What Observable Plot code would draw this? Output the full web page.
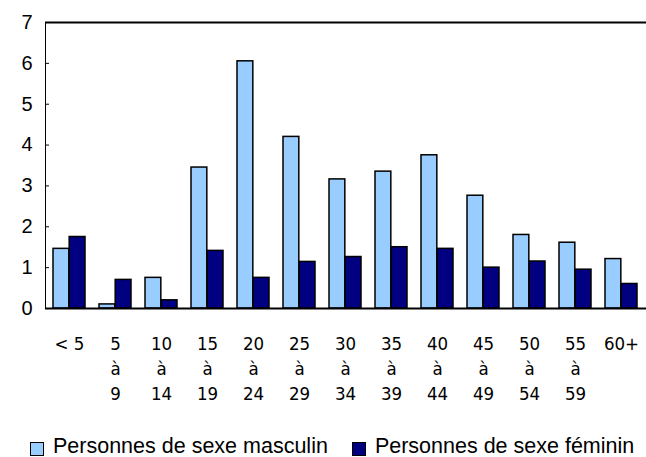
<!DOCTYPE html>
<html><head><meta charset="utf-8">
<script src="https://cdn.jsdelivr.net/npm/d3@7"></script>
<script src="https://cdn.jsdelivr.net/npm/@observablehq/plot@0.6"></script>
<style>
body{margin:0;background:#fff;font-family:"Liberation Sans",Arial,sans-serif;}
#chart svg{display:block;}
#legend{height:42px;width:646px;display:flex;align-items:center;padding-left:30px;padding-top:21px;box-sizing:border-box;font-size:21.5px;color:#000;white-space:nowrap;}
#legend .item{display:flex;align-items:center;margin-right:24px;flex-shrink:0;}
#legend .sw{width:12px;height:12px;border:1px solid #000;margin-right:9px;position:relative;top:2px;flex-shrink:0;}
</style></head><body><div id="chart"></div><div id="legend"></div>
<script>
const groups = ["< 5","5 à 9","10 à 14","15 à 19","20 à 24","25 à 29","30 à 34","35 à 39","40 à 44","45 à 49","50 à 54","55 à 59","60+"];
const groupLabels = ["< 5","5\nà\n9","10\nà\n14","15\nà\n19","20\nà\n24","25\nà\n29","30\nà\n34","35\nà\n39","40\nà\n44","45\nà\n49","50\nà\n54","55\nà\n59","60+"];
const masculin = [1.46,0.10,0.75,3.45,6.05,4.20,3.16,3.35,3.75,2.76,1.80,1.61,1.21];
const feminin = [1.75,0.70,0.20,1.41,0.75,1.14,1.26,1.50,1.46,1.00,1.15,0.95,0.60];
const yTicks = [0,1,2,3,4,5,6,7];
const seriesNames = ["Personnes de sexe masculin","Personnes de sexe féminin"];
const seriesColors = ["#99ccff","#000080"];

const W = 646, H = 415, mL = 45, mR = 0, mT = 22, mB = 107;
const pInner = 0.3, pOuter = 0.15;
const step = (W - mL - mR) / (groups.length - pInner + 2 * pOuter);
const half = step * (1 - pInner) / 2;

const rowsM = groups.map((g, i) => ({group: g, value: masculin[i]}));
const rowsF = groups.map((g, i) => ({group: g, value: feminin[i]}));
const labelRows = groups.map((g, i) => ({group: g, label: groupLabels[i]}));

const chart = Plot.plot({
  width: W, height: H,
  marginLeft: mL, marginRight: mR, marginTop: mT, marginBottom: mB,
  style: {fontFamily: '"Liberation Sans", Arial, sans-serif', fontSize: "20px", color: "#000", background: "#fff"},
  x: {domain: groups, paddingInner: pInner, paddingOuter: pOuter, axis: null},
  y: {domain: [0, 7], ticks: yTicks, tickSize: -4, tickPadding: 17, line: true, label: null, tickFormat: d => String(d)},
  marks: [
    Plot.barY(rowsM, {x: "group", y: "value", fill: seriesColors[0], stroke: "#000", strokeWidth: 1.5, insetRight: half}),
    Plot.barY(rowsF, {x: "group", y: "value", fill: seriesColors[1], stroke: "#000", strokeWidth: 1.5, insetLeft: half}),
    Plot.ruleY([0, 7], {stroke: "#000", strokeWidth: 2}),
    Plot.text(labelRows, {x: "group", text: "label", frameAnchor: "bottom", lineAnchor: "top", dy: 24, lineHeight: 1.35, fontSize: 18.5, fontFamily: '"DejaVu Sans Condensed", "Liberation Sans Narrow", sans-serif', fontStretch: "condensed", fill: "#000"})
  ]
});
document.getElementById("chart").appendChild(chart);
chart.querySelectorAll('g[aria-label^="y-axis"] text').forEach(e => e.setAttribute("font-size", "20px"));
chart.querySelectorAll('g[aria-label="y-axis"] path, g[aria-label="y-axis line"] line, g[aria-label="y-axis line"] path').forEach(e => e.setAttribute("stroke-width", 2));

const legend = document.getElementById("legend");
seriesNames.forEach((name, i) => {
  const item = document.createElement("div");
  item.className = "item";
  const sw = document.createElement("span");
  sw.className = "sw";
  sw.style.background = seriesColors[i];
  const t = document.createElement("span");
  t.textContent = name;
  item.appendChild(sw); item.appendChild(t);
  legend.appendChild(item);
});
</script>
</body></html>
